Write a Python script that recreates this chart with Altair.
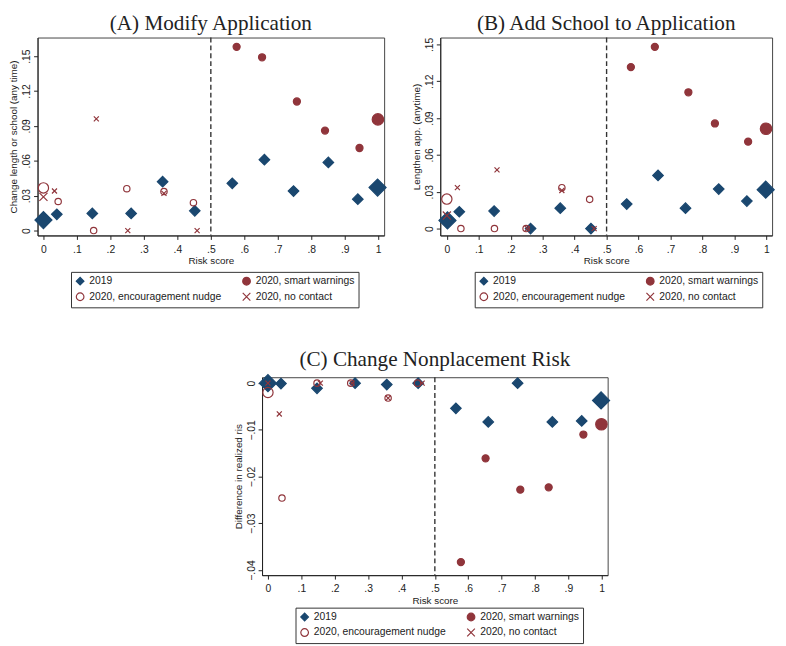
import altair as alt
import pandas as pd

NAVY = "#1a476f"
MAROON = "#90353b"

series_names = ["2019", "2020, smart warnings", "2020, encouragement nudge", "2020, no contact"]
x_ticks = [0, 0.1, 0.2, 0.3, 0.4, 0.5, 0.6, 0.7, 0.8, 0.9, 1]
cutoff = [0.5]

# ---------------- Panel A: Modify Application ----------------
a_2019_x = [0.0, 0.04, 0.146, 0.262, 0.356, 0.452, 0.564, 0.66, 0.747, 0.851, 0.939, 0.998]
a_2019_y = [0.009, 0.014, 0.0147, 0.0147, 0.042, 0.017, 0.0406, 0.061, 0.034, 0.0586, 0.027, 0.037]
a_2019_big = [1, 0, 0, 0, 0, 0, 0, 0, 0, 0, 0, 1]
a_smart_x = [0.577, 0.653, 0.757, 0.841, 0.944, 0.999]
a_smart_y = [0.158, 0.149, 0.111, 0.086, 0.071, 0.0956]
a_smart_big = [0, 0, 0, 0, 0, 1]
a_nudge_x = [0.0, 0.044, 0.15, 0.249, 0.36, 0.448]
a_nudge_y = [0.0367, 0.025, 0.0, 0.036, 0.0336, 0.024]
a_nudge_big = [1, 0, 0, 0, 0, 0]
a_none_x = [0.0, 0.033, 0.158, 0.252, 0.36, 0.459]
a_none_y = [0.029, 0.034, 0.096, 0.0, 0.032, 0.0]
a_none_big = [1, 0, 0, 0, 0, 0]
a_y_ticks = [0, 0.03, 0.06, 0.09, 0.12, 0.15]

# ---------------- Panel B: Add School to Application ----------------
b_2019_x = [0.002, 0.039, 0.148, 0.262, 0.355, 0.451, 0.563, 0.661, 0.747, 0.851, 0.939, 0.998]
b_2019_y = [0.0066, 0.0137, 0.0143, 0.0, 0.0166, 0.0, 0.020, 0.0433, 0.0166, 0.0322, 0.0224, 0.0317]
b_2019_big = [1, 0, 0, 0, 0, 0, 0, 0, 0, 0, 0, 1]
b_smart_x = [0.576, 0.651, 0.756, 0.839, 0.943, 0.999]
b_smart_y = [0.1315, 0.148, 0.111, 0.0856, 0.0708, 0.0813]
b_smart_big = [0, 0, 0, 0, 0, 1]
b_nudge_x = [0.0, 0.044, 0.149, 0.248, 0.36, 0.447]
b_nudge_y = [0.024, 0.0, 0.0, 0.0, 0.0333, 0.0238]
b_nudge_big = [1, 0, 0, 0, 0, 0]
b_none_x = [0.0, 0.033, 0.157, 0.252, 0.36, 0.461]
b_none_y = [0.0106, 0.0333, 0.0478, 0.0, 0.031, 0.0]
b_none_big = [1, 0, 0, 0, 0, 0]
b_y_ticks = [0, 0.03, 0.06, 0.09, 0.12, 0.15]

# ---------------- Panel C: Change Nonplacement Risk ----------------
c_2019_x = [0.0, 0.039, 0.147, 0.261, 0.356, 0.45, 0.563, 0.66, 0.748, 0.852, 0.94, 0.998]
c_2019_y = [0.0, -0.0001, -0.0011, 0.0, -0.0003, 0.0, -0.0054, -0.0083, 0.0, -0.0083, -0.0081, -0.0037]
c_2019_big = [1, 0, 0, 0, 0, 0, 0, 0, 0, 0, 0, 1]
c_smart_x = [0.578, 0.652, 0.756, 0.841, 0.945, 0.999]
c_smart_y = [-0.0383, -0.0161, -0.0228, -0.0223, -0.011, -0.0088]
c_smart_big = [0, 0, 0, 0, 0, 1]
c_nudge_x = [0.0, 0.042, 0.147, 0.248, 0.36, 0.448]
c_nudge_y = [-0.002, -0.0246, 0.0, 0.0, -0.0032, 0.0]
c_nudge_big = [1, 0, 0, 0, 0, 0]
c_none_x = [0.0, 0.034, 0.157, 0.252, 0.36, 0.462]
c_none_y = [0.0, -0.0066, 0.0, 0.0, -0.0032, 0.0]
c_none_big = [0, 0, 0, 0, 0, 0]
c_y_ticks = [0, -0.01, -0.02, -0.03, -0.04]

# ---------------- styling ----------------
SHAPES = ["diamond", "circle", "circle", "M-1,-1L1,1M-1,1L1,-1"]
FILLS = [NAVY, MAROON, "transparent", "transparent"]
STROKES = [NAVY, MAROON, MAROON, MAROON]
BASE_SIZE = {series_names[0]: 115, series_names[1]: 52, series_names[2]: 42, series_names[3]: 26}
BIG_FACTOR = 2.6


def build(groups):
    rows = []
    for name, xs, ys, bigs in groups:
        for x, y, b in zip(xs, ys, bigs):
            rows.append({"series": name, "x": x, "y": y,
                         "sz": BASE_SIZE[name] * (BIG_FACTOR if b else 1.0)})
    return pd.DataFrame(rows)


dfA = build([(series_names[0], a_2019_x, a_2019_y, a_2019_big),
             (series_names[1], a_smart_x, a_smart_y, a_smart_big),
             (series_names[2], a_nudge_x, a_nudge_y, a_nudge_big),
             (series_names[3], a_none_x, a_none_y, a_none_big)])
dfB = build([(series_names[0], b_2019_x, b_2019_y, b_2019_big),
             (series_names[1], b_smart_x, b_smart_y, b_smart_big),
             (series_names[2], b_nudge_x, b_nudge_y, b_nudge_big),
             (series_names[3], b_none_x, b_none_y, b_none_big)])
dfC = build([(series_names[0], c_2019_x, c_2019_y, c_2019_big),
             (series_names[1], c_smart_x, c_smart_y, c_smart_big),
             (series_names[2], c_nudge_x, c_nudge_y, c_nudge_big),
             (series_names[3], c_none_x, c_none_y, c_none_big)])

X_LABELS = "datum.value == 0 ? '0' : datum.value == 1 ? '1' : replace(format(datum.value, '.1f'), '0.', '.')"
Y_LABELS = "datum.value == 0 ? '0' : replace(format(datum.value, '.2f'), '0.', '.')"


def panel(df, title, ytitle, ydomain, yticks, width, height, legx, legy, xdomain):
    legend = alt.Legend(orient="none", legendX=legx, legendY=legy, columns=2, direction="horizontal",
                        title=None, strokeColor="#333", padding=4, columnPadding=18, rowPadding=2,
                        labelFont="Liberation Sans", labelFontSize=10.5, labelColor="#222",
                        labelOffset=4, symbolSize=60, symbolStrokeWidth=1.2, labelLimit=250)
    xs = alt.X("x:Q", title="Risk score",
               scale=alt.Scale(domain=xdomain, nice=False, zero=False),
               axis=alt.Axis(values=x_ticks, labelExpr=X_LABELS, labelOverlap=False,
                             labelPadding=5, titlePadding=1))
    ys = alt.Y("y:Q", title=ytitle,
               scale=alt.Scale(domain=ydomain, nice=False, zero=False),
               axis=alt.Axis(values=yticks, labelExpr=Y_LABELS, labelAngle=270, labelOverlap=False,
                             labelAlign="center", labelBaseline="bottom"))
    pts = alt.Chart(df).mark_point(filled=True, opacity=1, strokeWidth=1.2).encode(
        x=xs, y=ys,
        shape=alt.Shape("series:N", scale=alt.Scale(domain=series_names, range=SHAPES), legend=legend),
        fill=alt.Fill("series:N", scale=alt.Scale(domain=series_names, range=FILLS), legend=legend),
        stroke=alt.Stroke("series:N", scale=alt.Scale(domain=series_names, range=STROKES), legend=legend),
        size=alt.Size("sz:Q", scale=None),
        order=alt.Order("sz:Q", sort="descending"),
    )
    rule = alt.Chart(pd.DataFrame({"x": cutoff})).mark_rule(
        color="#333", strokeDash=[5, 3], strokeWidth=1.4).encode(x=xs)
    return alt.layer(pts, rule).properties(
        width=width, height=height,
        title=alt.TitleParams(title, font="Liberation Serif", fontSize=21.5, fontWeight="normal",
                              anchor="middle", frame="group", color="#222", offset=2))


pA = panel(dfA, "(A) Modify Application", "Change length or school (any time)",
           [-0.0042, 0.166], a_y_ticks, 352, 201, 34, 238, [-0.0176, 1.0176])
pB = panel(dfB, "(B) Add School to Application", "Lengthen app. (anytime)",
           [-0.0056, 0.1556], b_y_ticks, 337, 201, 35, 238, [-0.0206, 1.018])
pC = panel(dfC, "(C) Change Nonplacement Risk", "Difference in realized ris",
           [-0.0411, 0.00126], c_y_ticks, 351, 201, 34, 234, [-0.0177, 1.0177])

spacer = alt.Chart(pd.DataFrame({"v": [0]})).mark_point(size=0, opacity=0).encode(
    x=alt.value(0), y=alt.value(0)
).properties(width=197, height=10, view=alt.ViewBackground(stroke="transparent"))

IND = dict(shape="independent", fill="independent", stroke="independent")

row1 = alt.hconcat(pA, pB, spacing=22).resolve_scale(**IND).resolve_legend(**IND)
row2 = alt.hconcat(spacer, pC, spacing=0).resolve_scale(**IND).resolve_legend(**IND)

chart = alt.vconcat(row1, row2, spacing=40).resolve_scale(**IND).resolve_legend(**IND).properties(
    padding=0
).configure_view(
    stroke="#444", strokeWidth=1
).configure_axis(
    grid=False, domainColor="#222", tickColor="#222", tickSize=4, labelOverlap=False,
    labelFont="Liberation Sans", labelFontSize=10.5, labelColor="#222", labelPadding=2,
    titleFont="Liberation Sans", titleFontSize=10, titleFontWeight="normal",
    titleColor="#222", titlePadding=3
)

chart.save("out.html", embed_options={"renderer": "svg", "actions": False})
